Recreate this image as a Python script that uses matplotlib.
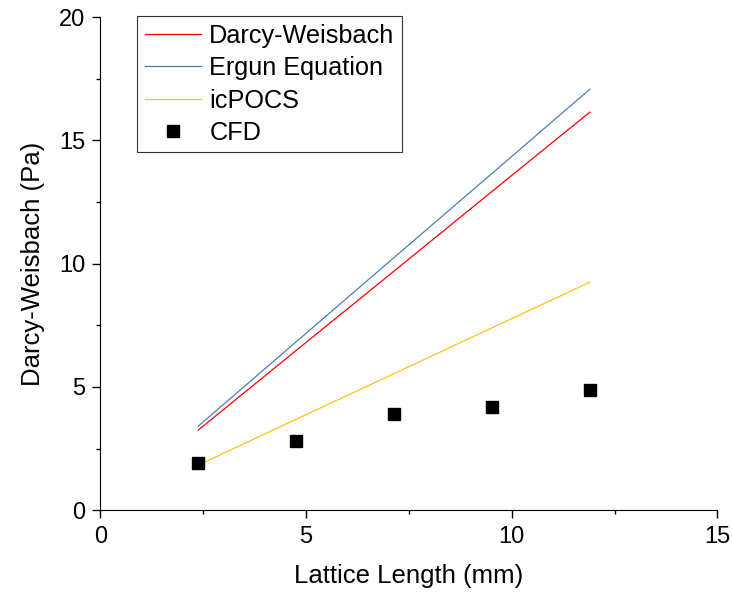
import matplotlib.pyplot as plt
from matplotlib.ticker import MultipleLocator

plt.rcParams['font.family'] = ['Liberation Sans', 'DejaVu Sans']

lattice_length = [2.38, 4.76, 7.14, 9.52, 11.9]
darcy_weisbach = [3.25, 6.48, 9.70, 12.93, 16.15]
ergun = [3.41, 6.83, 10.25, 13.66, 17.08]
icpocs = [1.83, 3.69, 5.54, 7.40, 9.25]
cfd = [1.91, 2.80, 3.89, 4.18, 4.87]

fig = plt.figure(figsize=(7.32, 5.94), dpi=100)
ax = fig.add_axes([0.137, 0.141, 0.843, 0.830])

ax.plot(lattice_length, darcy_weisbach, color='#FF0000', lw=0.9, label='Darcy-Weisbach')
ax.plot(lattice_length, ergun, color='#4F7CB3', lw=0.9, label='Ergun Equation')
ax.plot(lattice_length, icpocs, color='#FFC020', lw=0.9, label='icPOCS')
ax.plot(lattice_length, cfd, 's', color='black', ms=8, label='CFD')

ax.set_xlim(0, 15)
ax.set_ylim(0, 20)
ax.xaxis.set_major_locator(MultipleLocator(5))
ax.xaxis.set_minor_locator(MultipleLocator(2.5))
ax.yaxis.set_major_locator(MultipleLocator(5))
ax.yaxis.set_minor_locator(MultipleLocator(2.5))
ax.tick_params(which='major', direction='out', length=6, width=1, labelsize=17, pad=5)
ax.tick_params(which='minor', direction='out', length=3, width=1)
ax.spines['top'].set_visible(False)
ax.spines['right'].set_visible(False)

ax.set_xlabel('Lattice Length (mm)', fontsize=18.5, labelpad=12)
ax.set_ylabel('Darcy-Weisbach (Pa)', fontsize=18.5, labelpad=10)

leg = ax.legend(loc='upper left', bbox_to_anchor=(0.06, 1.002), fontsize=18.2,
                frameon=True, fancybox=False, edgecolor='black',
                handlelength=2.2, handletextpad=0.35, labelspacing=0.33,
                borderpad=0.3, borderaxespad=0)
leg.get_frame().set_linewidth(0.8)

plt.savefig('out.png', dpi=100)
